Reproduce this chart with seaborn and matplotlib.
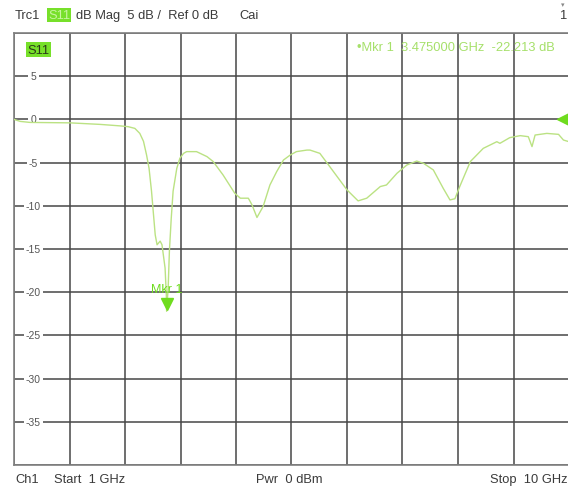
import matplotlib
matplotlib.use("Agg")
import matplotlib.pyplot as plt
import matplotlib.transforms as mtransforms
import numpy as np
import pandas as pd
import seaborn as sns

# S11 sweep, 1-10 GHz
freq_ghz = [1.00, 1.10, 1.26, 1.91, 2.40, 2.72, 2.85, 2.96, 3.04, 3.10, 3.15, 3.19,
            3.23, 3.29, 3.32, 3.37, 3.40, 3.45, 3.47, 3.475, 3.50, 3.52, 3.55, 3.58,
            3.64, 3.69, 3.75, 3.80, 3.91, 3.96, 4.13, 4.23, 4.39, 4.58, 4.67, 4.80,
            4.86, 4.94, 5.04, 5.15, 5.26, 5.37, 5.48, 5.58, 5.75, 5.80, 5.96, 6.12,
            6.40, 6.58, 6.72, 6.94, 7.04, 7.21, 7.37, 7.53, 7.64, 7.80, 7.96, 8.07,
            8.15, 8.23, 8.40, 8.61, 8.83, 8.88, 9.04, 9.21, 9.34, 9.40, 9.45, 9.64,
            9.83, 9.91, 10.00]
s11_db = [0.00, -0.23, -0.35, -0.40, -0.58, -0.75, -0.84, -1.04, -1.62, -2.54, -4.13, -5.66,
          -8.31, -13.36, -14.51, -14.09, -14.51, -17.21, -20.29, -22.213, -19.50, -15.24, -11.43, -8.31,
          -5.66, -4.50, -3.93, -3.73, -3.73, -3.73, -4.31, -4.88, -6.43, -8.55, -9.12, -9.12,
          -9.90, -11.35, -10.08, -7.59, -6.04, -4.70, -4.12, -3.73, -3.55, -3.55, -3.93, -5.46,
          -8.16, -9.43, -9.12, -7.77, -7.59, -6.24, -5.28, -4.82, -5.08, -5.85, -7.97, -9.32,
          -9.18, -7.74, -4.88, -3.35, -2.58, -2.77, -2.11, -1.88, -2.00, -3.15, -1.81, -1.62,
          -1.73, -2.39, -2.58]

marker_freq = 3.475
marker_db = -22.213
y_ticks = [5, 0, -5, -10, -15, -20, -25, -30, -35]

TRACE = "#bbe283"
GREEN = "#6fdc1e"
TEXT = "#3a3a3a"
FS = 9.3

sns.set_theme(style="white")
plt.rcParams["font.family"] = ["Liberation Sans", "DejaVu Sans"]

fig = plt.figure(figsize=(5.68, 4.89), dpi=100)
ax = fig.add_axes([14 / 568, 1 - 466 / 489, 555 / 568, 432 / 489])

df = pd.DataFrame({"freq": freq_ghz, "s11": s11_db})
sns.lineplot(data=df, x="freq", y="s11", ax=ax, color=TRACE, lw=1.0, zorder=3)

ax.set_xlim(1, 10)
ax.set_ylim(-40, 10)
ax.set_xticks(np.linspace(1, 10, 11))
ax.set_yticks(np.arange(-40, 11, 5))
ax.tick_params(left=False, bottom=False, labelleft=False, labelbottom=False)
ax.grid(True, color="#474747", lw=1.1, zorder=1)
ax.set_xlabel("")
ax.set_ylabel("")
for s in ax.spines.values():
    s.set_color("#808080")
    s.set_linewidth(1.2)

# y-scale labels sitting on the grid lines
ytrans = mtransforms.blended_transform_factory(ax.transAxes, ax.transData)
for v in y_ticks:
    ax.text(0.035, v, f"{v}", transform=ytrans, ha="center", va="center",
            fontsize=7.5, color="#555555", zorder=2,
            bbox=dict(boxstyle="square,pad=0.22", fc="white", ec="none"))

# marker 1 (triangle tip on the trace point)
tri = mtransforms.offset_copy(ax.transData, fig=fig, x=0, y=7, units="dots")
ax.plot([marker_freq], [marker_db], marker="v", ms=9, color=GREEN,
        transform=tri, zorder=5, clip_on=False)
ax.text(marker_freq, marker_db + 2.6, "Mkr 1", ha="center", va="center",
        fontsize=9, color=GREEN, zorder=5)

# reference level arrow at right edge
ref = mtransforms.offset_copy(ax.transData, fig=fig, x=-6, y=0, units="dots")
ax.plot([10], [0], marker="<", ms=9, color=GREEN, transform=ref,
        zorder=5, clip_on=False)

# marker readout and trace tag inside the diagram
ax.text(0.618, 0.968, "\u2022Mkr 1  3.475000 GHz  -22.213 dB", transform=ax.transAxes,
        ha="left", va="center", fontsize=FS, color="#a6e06a", zorder=4)
ax.text(0.024, 0.961, "S11", transform=ax.transAxes, ha="left", va="center",
        fontsize=FS, color="#2a3a1a", zorder=4,
        bbox=dict(boxstyle="square,pad=0.12", fc="#77e02a", ec="none"))

# header line
fy = 1 - 16 / 489
fig.text(15 / 568, fy, "Trc1", ha="left", va="center", fontsize=FS, color=TEXT)
fig.text(48 / 568, fy, "S11", ha="left", va="center", fontsize=FS, color="#c8f5a0",
         bbox=dict(boxstyle="square,pad=0.1", fc="#77e02a", ec="none"))
fig.text(76 / 568, fy, "dB Mag  5 dB /  Ref 0 dB", ha="left", va="center",
         fontsize=FS, color=TEXT)
fig.text(239 / 568, fy, "Cai", ha="left", va="center", fontsize=FS, color=TEXT)
fig.text(567 / 568, fy, "1", ha="right", va="center", fontsize=FS, color=TEXT)
fig.text(563 / 568, 1 - 5 / 489, "\u25be", ha="center", va="center", fontsize=5,
         color="#888888", family=["DejaVu Sans"])

# footer line
by = 1 - 480 / 489
fig.text(15 / 568, by, "Ch1", ha="left", va="center", fontsize=FS, color=TEXT)
fig.text(54 / 568, by, "Start  1 GHz", ha="left", va="center", fontsize=FS, color=TEXT)
fig.text(256 / 568, by, "Pwr  0 dBm", ha="left", va="center", fontsize=FS, color=TEXT)
fig.text(568 / 568, by, "Stop  10 GHz", ha="right", va="center", fontsize=FS, color=TEXT)

fig.savefig("out.png", dpi=100, facecolor="white")
